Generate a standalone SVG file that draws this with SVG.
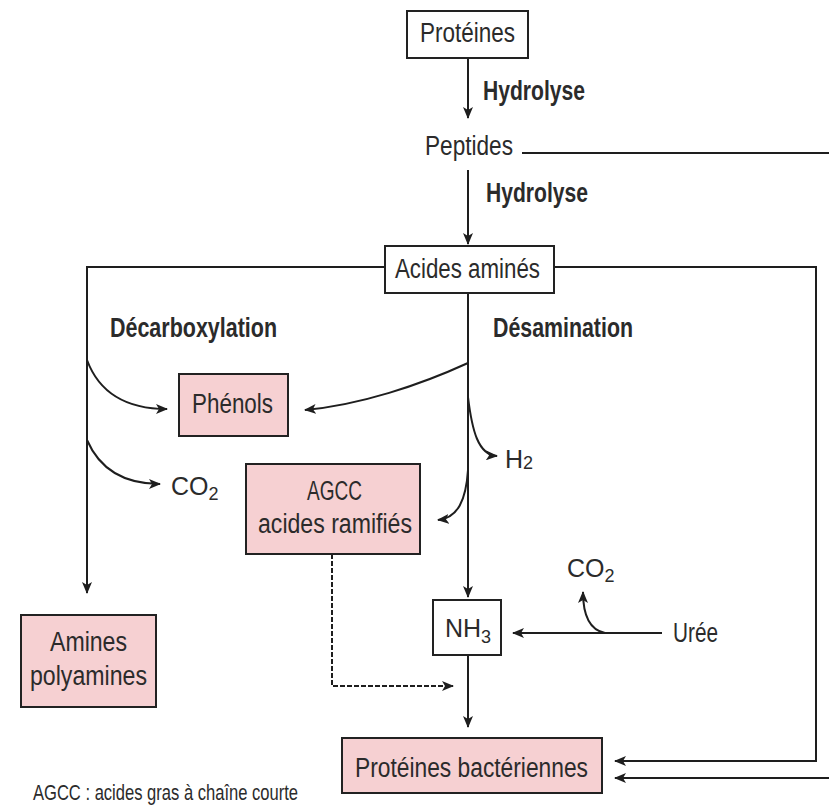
<svg xmlns="http://www.w3.org/2000/svg" width="829" height="805" viewBox="0 0 829 805">
<style>
.t{font-family:"Liberation Sans","Arial",sans-serif;font-size:27px;fill:#2b2b2b}
.s{font-family:"Liberation Sans","Arial",sans-serif;font-size:25px;fill:#2b2b2b}
.sub{font-size:18px}
.fn{font-family:"Liberation Sans","Arial",sans-serif;font-size:22px;fill:#2b2b2b}
.b{font-weight:bold}
.box{fill:#ffffff;stroke:#222;stroke-width:2}
.pink{fill:#f6d0d2;stroke:#222;stroke-width:2}
.ln{fill:none;stroke:#1e1e1e;stroke-width:2}
.dash{fill:none;stroke:#1e1e1e;stroke-width:2;stroke-dasharray:5,2}
</style>
<defs>
<marker id="ah" markerUnits="userSpaceOnUse" markerWidth="12" markerHeight="10" refX="11" refY="5" orient="auto">
<path d="M0,0 L12,5 L0,10 L3,5 Z" fill="#1e1e1e"/>
</marker>
</defs>
<rect width="829" height="805" fill="#ffffff"/>
<g id="connectors">
<path class="ln" d="M468,58 V118" marker-end="url(#ah)"/>
<path class="ln" d="M468,170 V244" marker-end="url(#ah)"/>
<path class="ln" d="M522,153 H829"/>
<path class="ln" d="M554,267 H816 V761 H615" marker-end="url(#ah)"/>
<path class="ln" d="M829,778 H615" marker-end="url(#ah)"/>
<path class="ln" d="M385,267 H87 V593" marker-end="url(#ah)"/>
<path class="ln" d="M87,360 C100,395 130,409 167,409" marker-end="url(#ah)"/>
<path class="ln" d="M87,440 C100,470 125,484 160,484" marker-end="url(#ah)"/>
<path class="ln" d="M468,293 V597" marker-end="url(#ah)"/>
<path class="ln" d="M468,363 C420,385 360,405 305,410" marker-end="url(#ah)"/>
<path class="ln" d="M468,397 C472,430 478,455 497,456" marker-end="url(#ah)"/>
<path class="ln" d="M468,470 C466,500 458,518 438,520" marker-end="url(#ah)"/>
<path class="ln" d="M662,633 H513" marker-end="url(#ah)"/>
<path class="ln" d="M605,633 C590,630 583,615 583,592" marker-end="url(#ah)"/>
<path class="ln" d="M468,655 V727" marker-end="url(#ah)"/>
<path class="dash" d="M332,554 V686 H453" marker-end="url(#ah)"/>
</g>
<g id="proteines">
<rect class="box" x="407" y="11" width="121" height="47"/>
<text class="t" x="420" y="42" textLength="95" lengthAdjust="spacingAndGlyphs">Protéines</text>
</g>
<g id="hydrolyse1">
<text class="t b" x="483" y="100" textLength="102" lengthAdjust="spacingAndGlyphs">Hydrolyse</text>
</g>
<g id="peptides">
<text class="t" x="425" y="155" textLength="88" lengthAdjust="spacingAndGlyphs">Peptides</text>
</g>
<g id="hydrolyse2">
<text class="t b" x="486" y="202" textLength="102" lengthAdjust="spacingAndGlyphs">Hydrolyse</text>
</g>
<g id="acides-amines">
<rect class="box" x="385" y="246" width="169" height="47"/>
<text class="t" x="395" y="278" textLength="145" lengthAdjust="spacingAndGlyphs">Acides aminés</text>
</g>
<g id="decarboxylation">
<text class="t b" x="110" y="337" textLength="167" lengthAdjust="spacingAndGlyphs">Décarboxylation</text>
</g>
<g id="desamination">
<text class="t b" x="493" y="337" textLength="140" lengthAdjust="spacingAndGlyphs">Désamination</text>
</g>
<g id="phenols">
<rect class="pink" x="179" y="374" width="109" height="62"/>
<text class="t" x="192" y="413" textLength="81" lengthAdjust="spacingAndGlyphs">Phénols</text>
</g>
<g id="co2-left">
<text class="s" x="171" y="495">CO<tspan class="sub" dy="5">2</tspan></text>
</g>
<g id="agcc">
<rect class="pink" x="246" y="464" width="174" height="90"/>
<text class="t" x="307" y="500" textLength="55" lengthAdjust="spacingAndGlyphs">AGCC</text>
<text class="t" x="258" y="533" textLength="154" lengthAdjust="spacingAndGlyphs">acides ramifiés</text>
</g>
<g id="h2">
<text class="s" x="505" y="468">H<tspan class="sub" dy="1">2</tspan></text>
</g>
<g id="nh3">
<rect class="box" x="433" y="600" width="68" height="55"/>
<text class="s" x="445" y="637">NH<tspan class="sub" dy="6">3</tspan></text>
</g>
<g id="co2-right">
<text class="s" x="567" y="577">CO<tspan class="sub" dy="5">2</tspan></text>
</g>
<g id="uree">
<text class="t" x="673" y="642" textLength="45" lengthAdjust="spacingAndGlyphs">Urée</text>
</g>
<g id="amines">
<rect class="pink" x="21" y="615" width="135" height="92"/>
<text class="t" x="50" y="651" textLength="77" lengthAdjust="spacingAndGlyphs">Amines</text>
<text class="t" x="30" y="685" textLength="117" lengthAdjust="spacingAndGlyphs">polyamines</text>
</g>
<g id="proteines-bacteriennes">
<rect class="pink" x="342" y="738" width="260" height="55"/>
<text class="t" x="355" y="777" textLength="233" lengthAdjust="spacingAndGlyphs">Protéines bactériennes</text>
</g>
<g id="footnote">
<text class="fn" x="33" y="800" textLength="265" lengthAdjust="spacingAndGlyphs">AGCC : acides gras à chaîne courte</text>
</g>
</svg>
